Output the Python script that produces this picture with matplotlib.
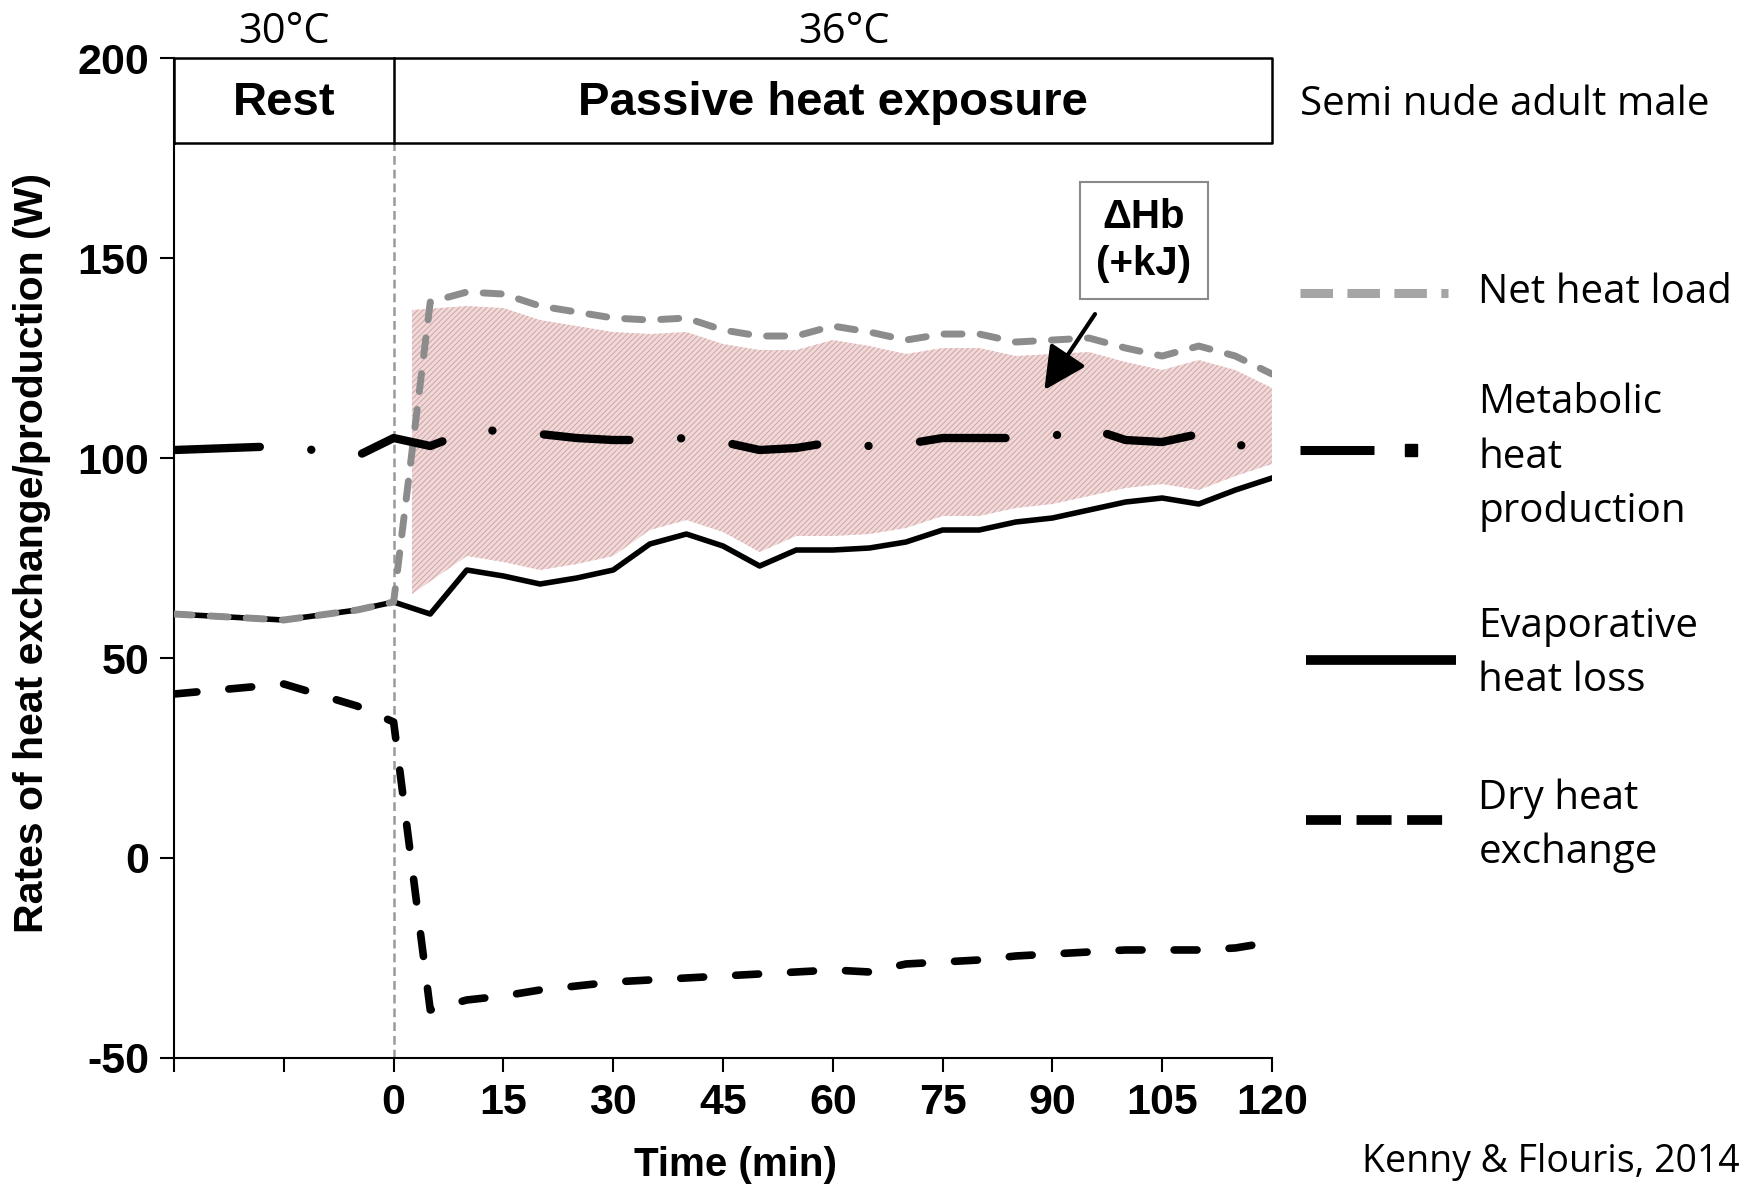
import matplotlib
matplotlib.use("Agg")
import matplotlib.pyplot as plt

# time points (min); rest period is -30..0
time = [-30, -15, -5, 0, 5, 10, 15, 20, 25, 30, 35, 40, 45, 50, 55, 60,
        65, 70, 75, 80, 85, 90, 95, 100, 105, 110, 115, 120]

net_heat_load = [61, 59.5, 62, 64, 139, 141.5, 141, 138, 136.5, 135, 134.5, 135,
                 132, 130.5, 130.5, 133, 131.5, 129.5, 131, 131, 129, 129.5, 130,
                 127.5, 125.5, 128, 125.5, 121]
metabolic = [102, 103, 100.5, 105, 103, 106.5, 107, 106, 105, 104.5, 104.5, 105,
             104, 102, 102.5, 104, 103, 103.5, 105, 105, 105, 105.5, 107.5,
             104.5, 104, 106, 103.5, 101.5]
evaporative = [61, 59.5, 62, 64, 61, 72, 70.5, 68.5, 70, 72, 78.5, 81, 78, 73,
               77, 77, 77.5, 79, 82, 82, 84, 85, 87, 89, 90, 88.5, 92, 95]
dry = [41, 43.5, 38, 34, -38, -35.5, -34.5, -33, -32, -31, -30.5, -30, -29.5,
       -29, -28.5, -28, -28.5, -26.5, -26, -25.5, -24.5, -24, -23.5, -23, -23,
       -23, -22.5, -21]

# shaded heat storage area (starts just after the step, gap left to the lines)
fill_start = (2.5, 137, 66)
gap = 3.5

xticks = [-30, -15, 0, 15, 30, 45, 60, 75, 90, 105, 120]
xticklabels = ['', '', '0', '15', '30', '45', '60', '75', '90', '105', '120']
yticks = [-50, 0, 50, 100, 150, 200]

bold = {'family': 'Liberation Sans', 'weight': 'bold'}
plain = {'family': 'Open Sans'}

plt.rcParams['hatch.linewidth'] = 0.7
plt.rcParams['hatch.color'] = '#d3a3a3'
plt.rcParams['axes.unicode_minus'] = False

fig = plt.figure(figsize=(17.6, 11.87), dpi=100)
ax = fig.add_axes([0.0989, 0.1087, 0.6238, 0.8424])
ax.set_xlim(-30, 120)
ax.set_ylim(-50, 200)

# heat storage shading
i10 = time.index(10)
fx = [fill_start[0]] + time[i10:]
ftop = [fill_start[1]] + [v - gap for v in net_heat_load[i10:]]
fbot = [fill_start[2]] + [v + gap for v in evaporative[i10:]]
ax.fill_between(fx, fbot, ftop, facecolor='#efd9d9', hatch='//////',
                edgecolor='#d3a3a3', linewidth=0, zorder=1)

# vertical separator at t=0
ax.plot([0, 0], [-50, 178.7], color='#9a9a9a', lw=1.8, ls=(0, (3.5, 2)), zorder=2)

ax.plot(time, evaporative, color='black', lw=4, zorder=3)
ax.plot(time, net_heat_load, color='#8c8c8c', lw=5, ls=(0, (2.6, 2.6)),
        dash_capstyle='round', zorder=4)
ax.plot(time, metabolic, color='black', lw=6, ls=(0, (10.3, 6.2, 0.01, 6.2)),
        dash_capstyle='round', zorder=4)
ax.plot(time, dry, color='black', lw=5.5, ls=(0, (3, 4.2)),
        dash_capstyle='round', zorder=4)

# header boxes
ax.plot([-30, 120, 120, -30, -30], [178.7, 178.7, 200, 200, 178.7],
        color='black', lw=1.8, clip_on=False, zorder=5)
ax.plot([0, 0], [178.7, 200], color='black', lw=1.8, clip_on=False, zorder=5)
ax.text(-15, 188.8, 'Rest', ha='center', va='center', fontsize=34, **bold)
ax.text(60, 188.8, 'Passive heat exposure', ha='center', va='center', fontsize=34, **bold)
ax.text(-15, 206.5, '30°C', ha='center', va='center', fontsize=30, **plain)
ax.text(61.5, 206.5, '36°C', ha='center', va='center', fontsize=30, **plain)

# annotation
ax.annotate('ΔHb\n(+kJ)', xy=(88.9, 117), xytext=(102.5, 154.3),
            ha='center', va='center', fontsize=29, linespacing=1.3, **bold,
            bbox=dict(boxstyle='square,pad=0.4', fc='white', ec='#8a8a8a', lw=1.5),
            arrowprops=dict(arrowstyle='-|>,head_length=0.9,head_width=0.45',
                            color='black', lw=3, shrinkA=12, shrinkB=0),
            zorder=6)

# axes styling
for s in ['top', 'right']:
    ax.spines[s].set_visible(False)
ax.spines['left'].set_linewidth(1.5)
ax.spines['bottom'].set_linewidth(1.5)
ax.set_xticks(xticks)
ax.set_xticklabels(xticklabels)
ax.set_yticks(yticks)
ax.tick_params(direction='out', length=10, width=1.5, pad=8)
for lab in ax.get_xticklabels() + ax.get_yticklabels():
    lab.set_fontfamily('Liberation Sans')
    lab.set_fontweight('bold')
    lab.set_fontsize(31)
ax.set_xlabel('Time (min)', fontsize=29, **bold)
ax.xaxis.set_label_coords(0.511, -0.088)
ax.set_ylabel('Rates of heat exchange/production (W)', fontsize=29.5, **bold)
ax.yaxis.set_label_coords(-0.112, 0.505)

# legend on the right, drawn by hand
tr = ax.transAxes
ax.plot([1.0256, 1.1605], [0.7654, 0.7654], transform=tr, clip_on=False,
        color='#a5a5a5', lw=6.5, ls=(0, (3.6, 1.6)))
ax.text(1.1881, 0.7654, 'Net heat load', transform=tr, va='center', fontsize=29, **plain)

ax.plot([1.0256, 1.0930], [0.6083, 0.6083], transform=tr, clip_on=False,
        color='black', lw=6.5, solid_capstyle='butt')
ax.plot([1.1268], [0.6083], transform=tr, clip_on=False, marker='s',
        color='black', markersize=8)
ax.text(1.1881, 0.6004, 'Metabolic\nheat\nproduction', transform=tr, va='center',
        fontsize=29, linespacing=1.45, **plain)

ax.plot([1.0307, 1.1677], [0.3984, 0.3984], transform=tr, clip_on=False,
        color='black', lw=7, solid_capstyle='butt')
ax.text(1.1881, 0.4040, 'Evaporative\nheat loss', transform=tr, va='center',
        fontsize=29, linespacing=1.45, **plain)

ax.plot([1.0307, 1.1677], [0.2379, 0.2379], transform=tr, clip_on=False,
        color='black', lw=7, ls=(0, (3.6, 1.6)))
ax.text(1.1881, 0.2320, 'Dry heat\nexchange', transform=tr, va='center',
        fontsize=29, linespacing=1.45, **plain)

ax.text(1.0256, 0.953, 'Semi nude adult male', transform=tr, va='center',
        fontsize=29, **plain)
fig.text(0.9885, 0.0208, 'Kenny & Flouris, 2014', ha='right', va='center',
         fontsize=27, **plain)

fig.savefig('out.png', dpi=100)
